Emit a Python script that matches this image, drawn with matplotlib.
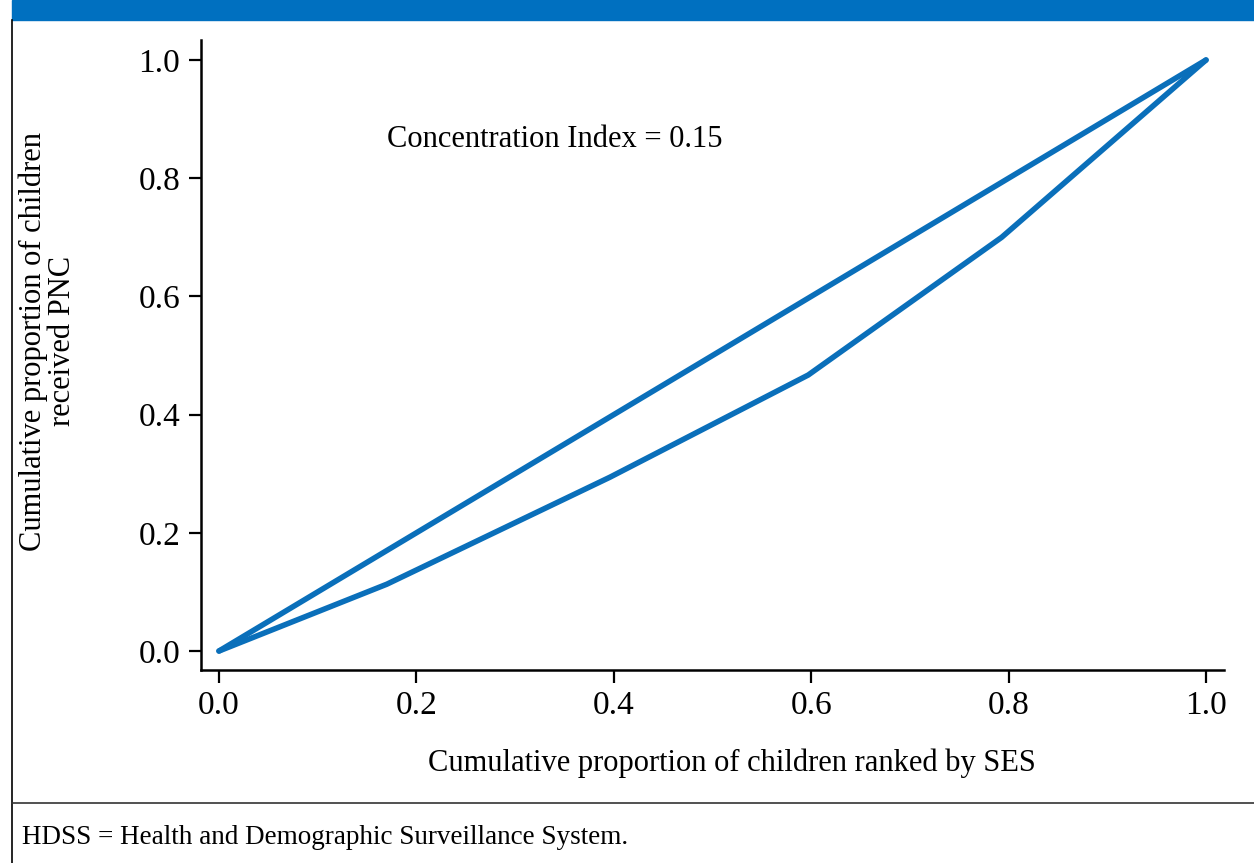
import numpy as np
import matplotlib.pyplot as plt
from matplotlib.patches import Rectangle
from matplotlib.lines import Line2D

# Concentration curve: cumulative share of children by SES vs share receiving PNC
ses_share = [0.0, 0.170, 0.396, 0.597, 0.793, 1.0]
pnc_share = [0.0, 0.113, 0.294, 0.467, 0.700, 1.0]
equality = ses_share
tick_vals = [0.0, 0.2, 0.4, 0.6, 0.8, 1.0]
tick_labels = ["0.0", "0.2", "0.4", "0.6", "0.8", "1.0"]
conc_index = 0.15

blue = "#0A6FBA"
serif = ["Liberation Serif", "DejaVu Serif"]
plt.rcParams["font.family"] = serif

fig = plt.figure(figsize=(12.54, 8.63), dpi=100)
W, H = 1254, 863

# page furniture: blue header strip, left border, footnote rule
fig.patches.append(Rectangle((12 / W, 1 - 20 / H), 1 - 12 / W, 20 / H,
                             transform=fig.transFigure, color="#0070C0", zorder=0))
fig.lines.append(Line2D([12 / W, 12 / W], [0, 1 - 20 / H], transform=fig.transFigure,
                        color="black", lw=1.2))
fig.lines.append(Line2D([12 / W, 1], [1 - 803 / H, 1 - 803 / H], transform=fig.transFigure,
                        color="#333333", lw=1.2))
fig.text(22 / W, 1 - 837 / H, "HDSS = Health and Demographic Surveillance System.",
         fontsize=19.5, va="center", ha="left")

ax = fig.add_axes([201 / W, 1 - 670 / H, (1224 - 201) / W, (670 - 40) / H])
ax.plot(ses_share, equality, color=blue, lw=4, solid_capstyle="round", solid_joinstyle="round")
ax.plot(ses_share, pnc_share, color=blue, lw=4, solid_capstyle="round", solid_joinstyle="round")

ax.set_xlim(-18 / 987, 1005 / 987)
ax.set_ylim(-19 / 591, 611 / 591)
ax.set_xticks(tick_vals)
ax.set_xticklabels(tick_labels)
ax.set_yticks(tick_vals)
ax.set_yticklabels(tick_labels)
ax.tick_params(labelsize=24, length=9, width=1.6, pad=6)

for side in ["top", "right"]:
    ax.spines[side].set_visible(False)
for side in ["left", "bottom"]:
    ax.spines[side].set_linewidth(1.8)

ax.text(0.17, 0.866, f"Concentration Index = {conc_index:.2f}", fontsize=22,
        va="center", ha="left")

ax.set_xlabel("Cumulative proportion of children ranked by SES", fontsize=22)
ax.xaxis.set_label_coords(0.519, -0.148)
ax.xaxis.label.set_va("center")
ax.set_ylabel("Cumulative proportion of children\nreceived PNC", fontsize=22, linespacing=1.0)
ax.yaxis.set_label_coords((48 - 201) / 1023, (670 - 341) / 630)
ax.yaxis.label.set_va("center")

fig.savefig("out.png", dpi=100)
